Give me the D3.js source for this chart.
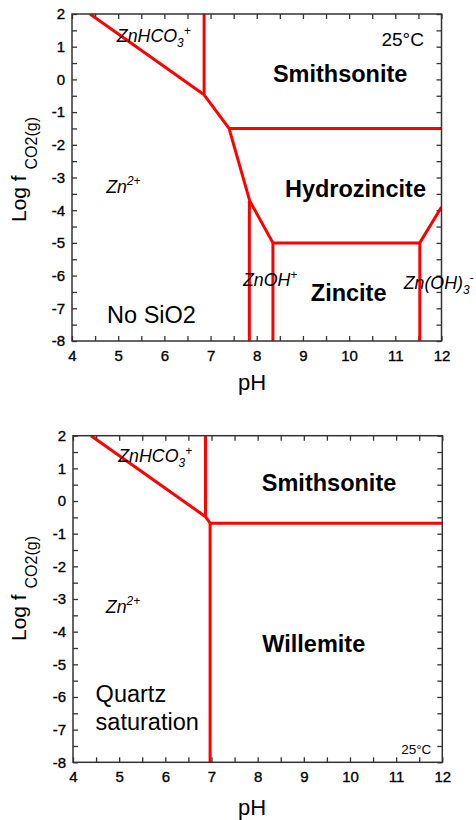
<!DOCTYPE html>
<html>
<head>
<meta charset="utf-8">
<script src="https://cdn.jsdelivr.net/npm/d3@7"></script>
<style>
  body { margin: 0; background: #fff; }
  text { font-family: "Liberation Sans", Arial, sans-serif; fill: #000; }
</style>
</head>
<body>
<div id="chart"></div>
<script>
// axis ticks
var phTicks = [4, 5, 6, 7, 8, 9, 10, 11, 12];
var logTicks = [2, 1, 0, -1, -2, -3, -4, -5, -6, -7, -8];

// phase boundaries, [pH, log fCO2] points
var noSilicaLines = [
    [[4.39, 2], [6.86, -0.47]],
    [[6.86, 2], [6.86, -0.47]],
    [[6.86, -0.47], [7.4, -1.5], [7.85, -3.72], [8.35, -5.0], [11.53, -5.0], [12, -3.9]],
    [[7.4, -1.5], [12, -1.5]],
    [[7.84, -3.72], [7.84, -8]],
    [[8.35, -5.0], [8.35, -8]],
    [[11.53, -5.0], [11.53, -8]]
];
var quartzLines = [
    [[4.39, 2], [6.87, -0.48]],
    [[6.87, 2], [6.87, -0.48]],
    [[6.87, -0.48], [6.97, -0.68]],
    [[6.97, -0.68], [12, -0.68]],
    [[6.97, -0.68], [6.97, -8]]
];

// field labels: parts are [text, "", "sub" or "sup"], anchored at [pH, log f]
var noSilicaLabels = [
    {kind: "species", parts: [["ZnHCO", ""], ["3", "sub"], ["+", "sup"]], at: [4.97, 1.14]},
    {kind: "note", parts: [["25°C", ""]], at: [10.70, 1.02]},
    {kind: "mineral", parts: [["Smithsonite", ""]], at: [8.35, -0.08]},
    {kind: "mineral", parts: [["Hydrozincite", ""]], at: [8.61, -3.6]},
    {kind: "species", parts: [["Zn", ""], ["2+", "sup"]], at: [4.74, -3.47]},
    {kind: "species", parts: [["ZnOH", ""], ["+", "sup"]], at: [7.70, -6.32]},
    {kind: "mineral", parts: [["Zincite", ""]], at: [9.17, -6.77]},
    {kind: "species", parts: [["Zn(OH)", ""], ["3", "sub"], ["-", "sup"]], at: [11.18, -6.41]},
    {kind: "big", parts: [["No SiO2", ""]], at: [4.76, -7.46]}
];
var quartzLabels = [
    {kind: "species", parts: [["ZnHCO", ""], ["3", "sub"], ["+", "sup"]], at: [4.98, 1.19]},
    {kind: "mineral", parts: [["Smithsonite", ""]], at: [8.09, 0.32]},
    {kind: "species", parts: [["Zn", ""], ["2+", "sup"]], at: [4.71, -3.42]},
    {kind: "mineral", parts: [["Willemite", ""]], at: [8.10, -4.63]},
    {kind: "big", parts: [["Quartz", ""]], at: [4.49, -6.14]},
    {kind: "big", parts: [["saturation", ""]], at: [4.49, -7.01]},
    {kind: "small", parts: [["25°C", ""]], at: [11.11, -7.75]}
];

var labelStyle = {
    species: {size: 17.8, weight: "normal", style: "italic"},
    mineral: {size: 23.5, weight: "bold", style: "normal"},
    big: {size: 23.5, weight: "normal", style: "normal"},
    note: {size: 19, weight: "normal", style: "normal"},
    small: {size: 13.5, weight: "normal", style: "normal"}
};

var svg = d3.select("#chart")
    .append("svg")
    .attr("width", 476)
    .attr("height", 820);

function drawPanel(p) {
    var x = d3.scaleLinear().domain([4, 12]).range([p.left, p.right]);
    var y = d3.scaleLinear().domain([2, -8]).range([p.top, p.bottom]);
    var g = svg.append("g");

    var clipId = "clip" + p.id;
    g.append("clipPath").attr("id", clipId)
        .append("rect")
        .attr("x", p.left).attr("y", p.top)
        .attr("width", p.right - p.left).attr("height", p.bottom - p.top);

    var halfX = d3.range(4, 12.001, 0.5);
    var halfY = d3.range(-8, 2.001, 0.5);

    // axes, ticks inward on all four sides
    var bottomAxis = d3.axisBottom(x).tickValues(halfX)
        .tickSizeInner(-5).tickSizeOuter(0).tickPadding(9)
        .tickFormat(function (d) { return phTicks.indexOf(d) >= 0 ? String(d) : ""; });
    var leftAxis = d3.axisLeft(y).tickValues(halfY)
        .tickSizeInner(-5).tickSizeOuter(0).tickPadding(7)
        .tickFormat(function (d) { return logTicks.indexOf(d) >= 0 ? String(d) : ""; });
    var topAxis = d3.axisTop(x).tickValues(halfX).tickSizeInner(-5).tickSizeOuter(0).tickFormat("");
    var rightAxis = d3.axisRight(y).tickValues(halfY).tickSizeInner(-5).tickSizeOuter(0).tickFormat("");

    var ax = g.append("g").attr("class", "axes");
    ax.append("g").attr("transform", "translate(0," + p.bottom + ")").call(bottomAxis);
    ax.append("g").attr("transform", "translate(" + p.left + ",0)").call(leftAxis);
    ax.append("g").attr("transform", "translate(0," + p.top + ")").call(topAxis);
    ax.append("g").attr("transform", "translate(" + p.right + ",0)").call(rightAxis);
    ax.selectAll(".domain").remove();
    ax.selectAll(".tick line").attr("stroke", "#333").attr("stroke-width", 1.3);
    ax.selectAll(".tick text")
        .style("font-size", "15px")
        .style("font-family", "'Liberation Sans', Arial, sans-serif")
        .attr("fill", "#000")
        .attr("stroke", "#000")
        .attr("stroke-width", 0.35);

    // boundaries
    var line = d3.line()
        .x(function (d) { return x(d[0]); })
        .y(function (d) { return y(d[1]); });
    g.append("g")
        .attr("clip-path", "url(#" + clipId + ")")
        .selectAll("path")
        .data(p.lines)
        .enter()
        .append("path")
        .attr("d", line)
        .attr("fill", "none")
        .attr("stroke", "#ff0000")
        .attr("stroke-width", 3)
        .attr("stroke-linejoin", "round");

    // frame
    g.append("rect")
        .attr("x", p.left).attr("y", p.top)
        .attr("width", p.right - p.left).attr("height", p.bottom - p.top)
        .attr("fill", "none")
        .attr("stroke", "#333")
        .attr("stroke-width", 1.5);

    // field labels
    g.selectAll("text.field")
        .data(p.labels)
        .enter()
        .append("text")
        .attr("class", "field")
        .attr("x", function (d) { return x(d.at[0]); })
        .attr("y", function (d) { return y(d.at[1]); })
        .style("font-size", function (d) { return labelStyle[d.kind].size + "px"; })
        .style("font-weight", function (d) { return labelStyle[d.kind].weight; })
        .style("font-style", function (d) { return labelStyle[d.kind].style; })
        .each(function (d) {
            var t = d3.select(this);
            var size = labelStyle[d.kind].size;
            var shift = 0;
            d.parts.forEach(function (part) {
                var want = part[1] == "sub" ? 0.28 * size : (part[1] == "sup" ? -0.42 * size : 0);
                t.append("tspan")
                    .attr("dy", want - shift)
                    .style("font-size", part[1] ? (0.67 * size) + "px" : null)
                    .text(part[0]);
                shift = want;
            });
        });

    // axis titles
    g.append("text")
        .attr("x", p.xTitle[0]).attr("y", p.xTitle[1])
        .attr("text-anchor", "middle")
        .style("font-size", "22px")
        .text("pH");

    var yt = g.append("text")
        .attr("transform", "translate(" + p.yTitle[0] + "," + p.yTitle[1] + ") rotate(-90)")
        .style("font-size", "21px");
    yt.append("tspan").text("Log f ");
    yt.append("tspan").attr("dy", 11).style("font-size", "16px").text("CO2(g)");
}

drawPanel({id: 1, left: 72, right: 441.5, top: 14, bottom: 341,
    lines: noSilicaLines, labels: noSilicaLabels,
    xTitle: [252, 390], yTitle: [26, 222]});

drawPanel({id: 2, left: 73, right: 442.3, top: 435.7, bottom: 762.3,
    lines: quartzLines, labels: quartzLabels,
    xTitle: [252, 815], yTitle: [26, 641]});
</script>
</body>
</html>
